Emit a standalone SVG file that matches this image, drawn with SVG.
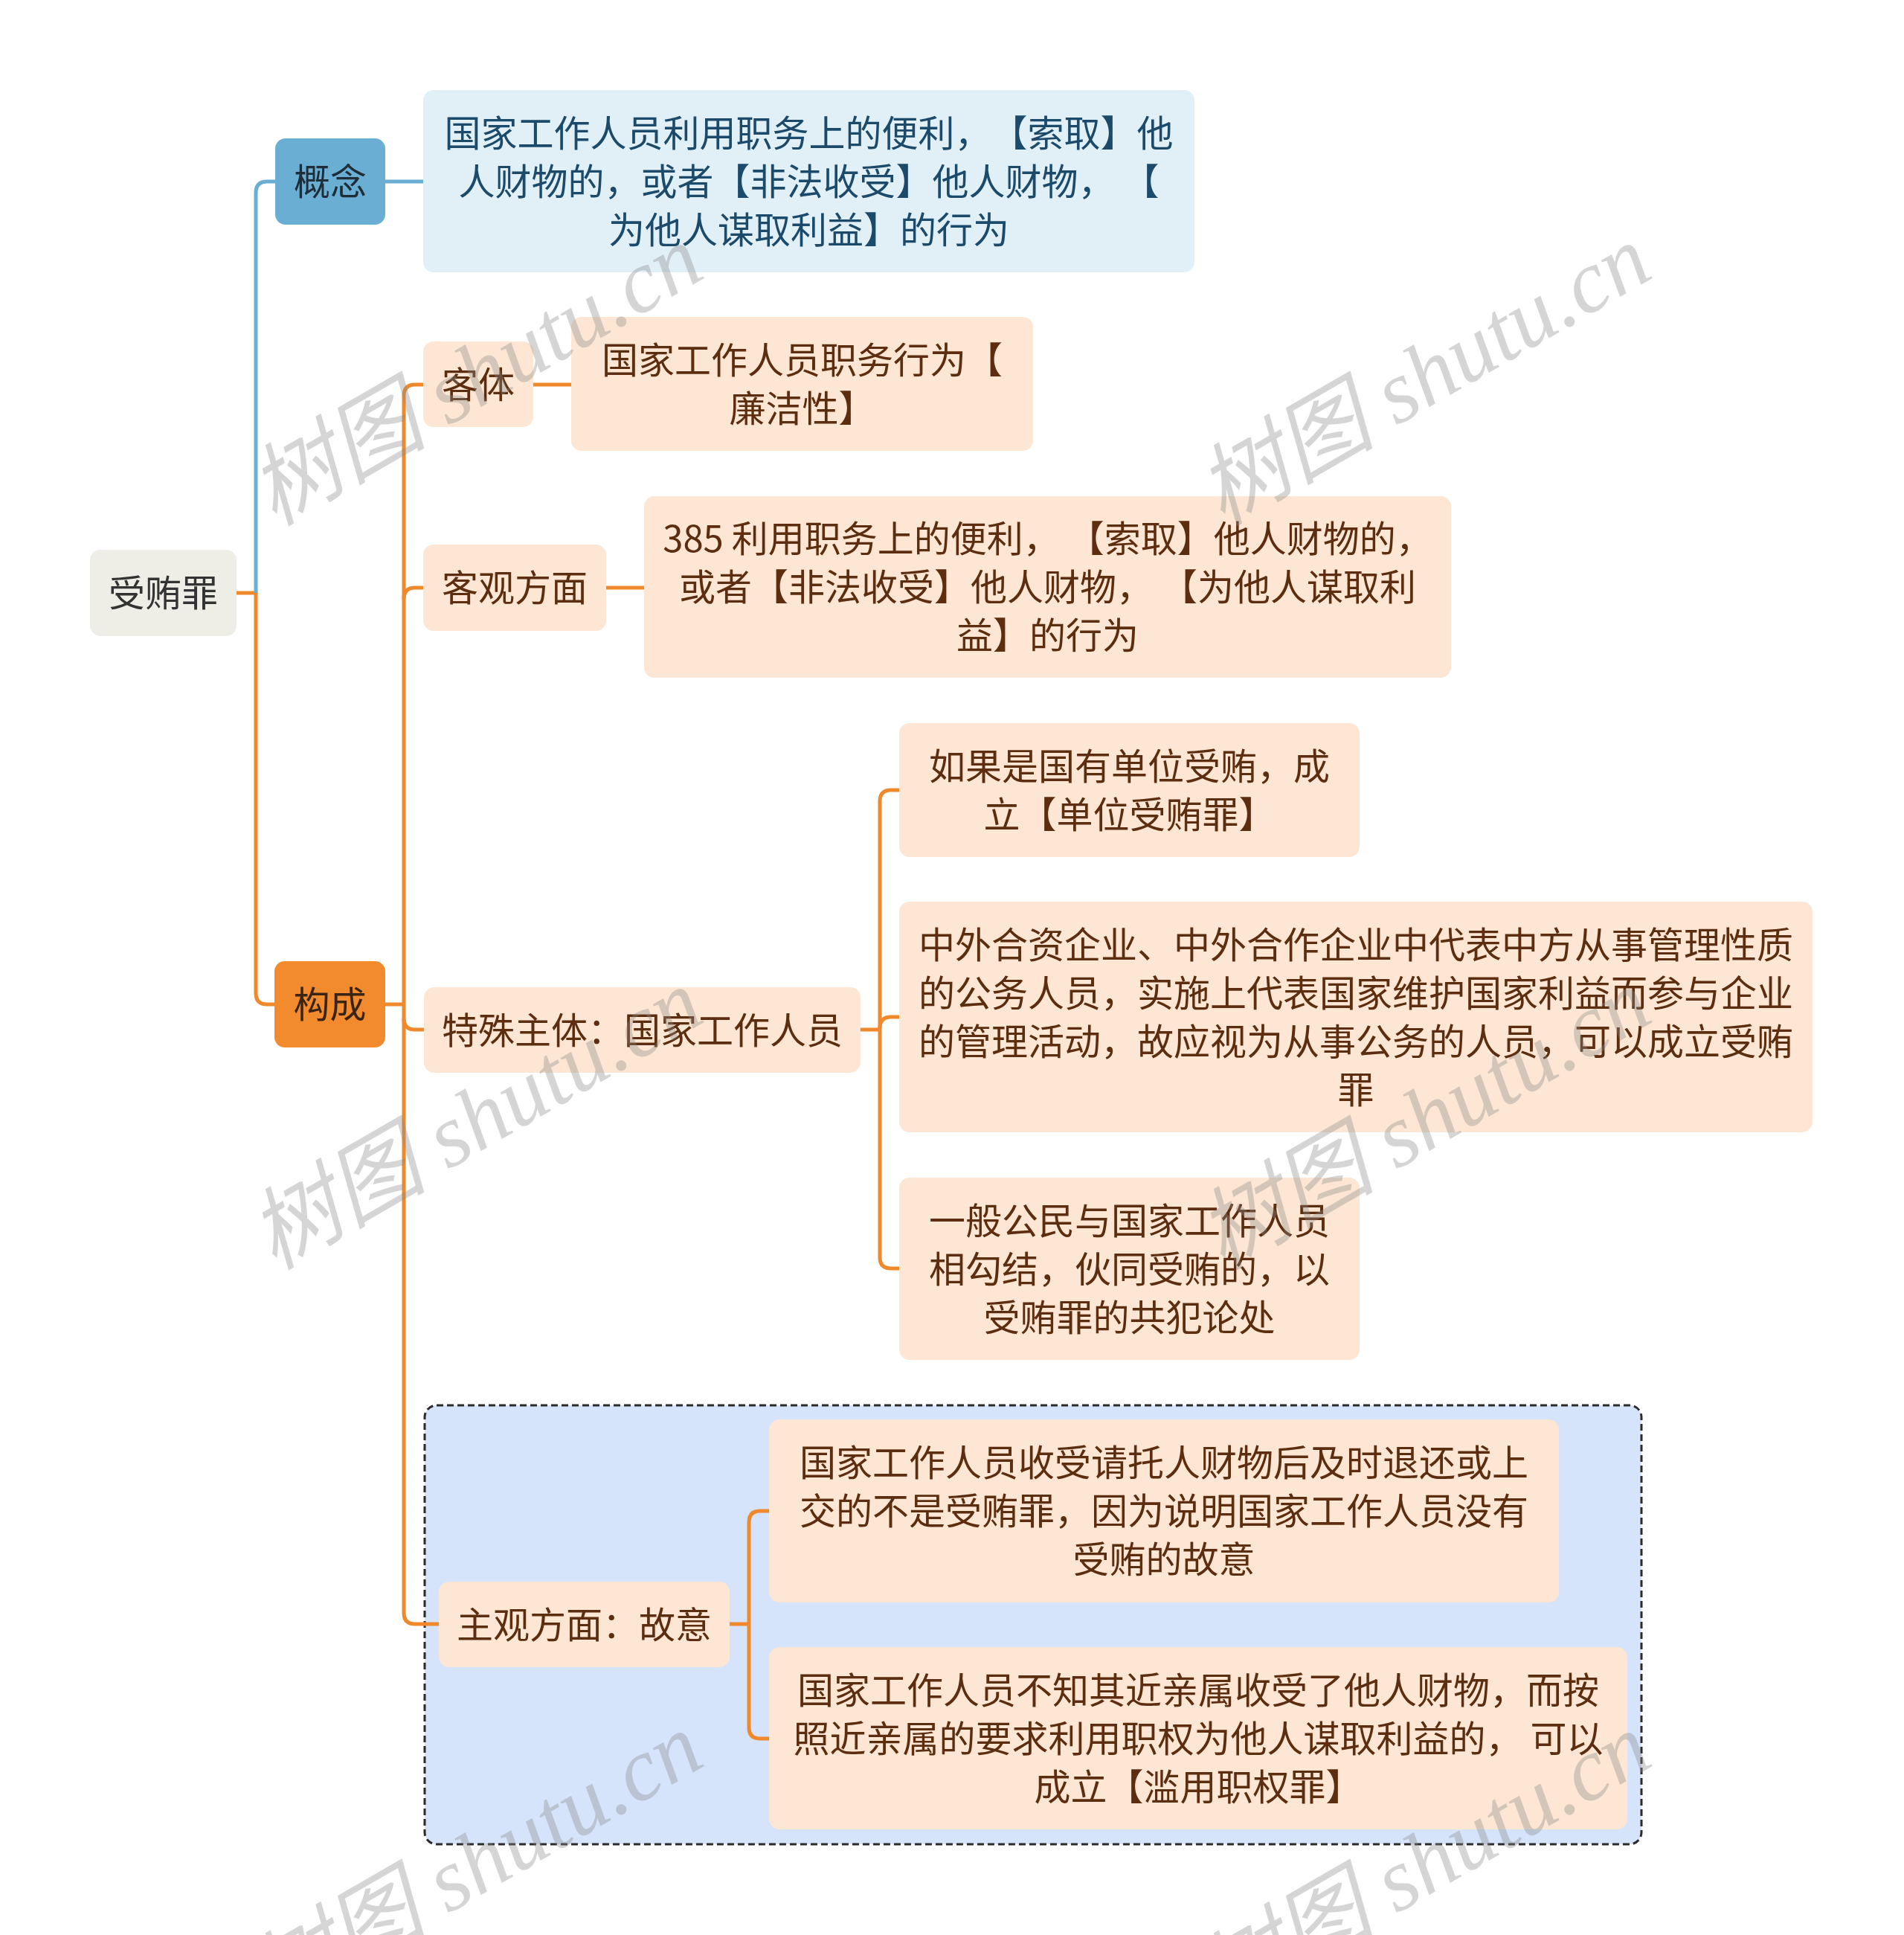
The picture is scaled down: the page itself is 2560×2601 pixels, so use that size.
<svg xmlns="http://www.w3.org/2000/svg" width="2560" height="2601" viewBox="0 0 2560 2601">
<style>
text{font-family:"Noto Sans CJK SC","Noto Sans",sans-serif;font-size:49px;text-anchor:middle;text-spacing-trim:space-all}
.peach{fill:#fde6d4}
.pt{fill:#5c2d0e}
.or{fill:none;stroke:#f0892c;stroke-width:5}
.bl{fill:none;stroke:#6aaed3;stroke-width:5}
.wm{font-family:"Liberation Serif","Noto Sans CJK SC",serif;font-size:120px;font-style:italic;fill:#8a8a8a;fill-opacity:0.36;text-anchor:middle}
</style>
<rect width="2560" height="2601" fill="#ffffff"/>
<g id="group-subjective">
<rect x="571" y="1889" width="1636" height="590" rx="16" fill="#d5e3fb" stroke="#2b2b2b" stroke-width="3" stroke-dasharray="9 5"/>
</g>
<g id="connectors">
<path class="or" d="M318,797 H344 V1335 Q344,1350 359,1350 H369"/>
<path class="bl" d="M344,797 V259 Q344,244 359,244 H370"/>
<path class="bl" d="M518,244 H569"/>
<path class="or" d="M518,1350 H543"/>
<path class="or" d="M569,517 H558 Q543,517 543,532 V2168 Q543,2183 558,2183 H590"/>
<path class="or" d="M543,805 Q543,790 558,790 H569"/>
<path class="or" d="M543,1369 Q543,1384 558,1384 H570"/>
<path class="or" d="M717,517 H768"/>
<path class="or" d="M815,790 H866"/>
<path class="or" d="M1157,1384 H1183"/>
<path class="or" d="M1209,1062 H1198 Q1183,1062 1183,1077 V1690 Q1183,1705 1198,1705 H1209"/>
<path class="or" d="M1183,1382 Q1183,1367 1198,1367 H1209"/>
<path class="or" d="M981,2183 H1007"/>
<path class="or" d="M1034,2031 H1022 Q1007,2031 1007,2046 V2322 Q1007,2337 1022,2337 H1034"/>
</g>
<g id="root">
<rect x="121" y="739" width="197" height="116" rx="14" fill="#eeeee6"/>
<text x="219.5" y="815" fill="#333333">受贿罪</text>
</g>
<g id="concept">
<rect x="370" y="186" width="148" height="116" rx="14" fill="#6aaed3"/>
<text x="444" y="262" fill="#1e2d38">概念</text>
</g>
<g id="concept-def">
<rect x="569" y="121" width="1037" height="245" rx="14" fill="#e1eff7"/>
<text fill="#1b4a6b" xml:space="preserve"><tspan x="1087.5" y="196.5">国家工作人员利用职务上的便利，【索取】他</tspan><tspan x="1087.5" y="261.5">人财物的，或者【非法收受】他人财物， 【</tspan><tspan x="1087.5" y="326.5">为他人谋取利益】的行为</tspan></text>
</g>
<g id="composition">
<rect x="369" y="1292" width="149" height="116" rx="14" fill="#f28a2e"/>
<text x="443.5" y="1368" fill="#3a2514">构成</text>
</g>
<g id="object">
<rect class="peach" x="569" y="459" width="148" height="115" rx="14"/>
<text class="pt" x="643" y="534.5">客体</text>
</g>
<g id="object-def">
<rect class="peach" x="768" y="426" width="621" height="180" rx="14"/>
<text class="pt"><tspan x="1078.5" y="501.5">国家工作人员职务行为【</tspan><tspan x="1078.5" y="566.5">廉洁性】</tspan></text>
</g>
<g id="objective">
<rect class="peach" x="569" y="732" width="246" height="116" rx="14"/>
<text class="pt" x="692" y="808">客观方面</text>
</g>
<g id="objective-def">
<rect class="peach" x="866" y="667" width="1085" height="244" rx="14"/>
<text class="pt" xml:space="preserve"><tspan x="1408.5" y="742">385 利用职务上的便利， 【索取】他人财物的，</tspan><tspan x="1408.5" y="807">或者【非法收受】他人财物， 【为他人谋取利</tspan><tspan x="1408.5" y="872">益】的行为</tspan></text>
</g>
<g id="subject">
<rect class="peach" x="570" y="1327" width="587" height="115" rx="14"/>
<text class="pt" x="863.5" y="1402.5">特殊主体：国家工作人员</text>
</g>
<g id="subject-1">
<rect class="peach" x="1209" y="972" width="619" height="180" rx="14"/>
<text class="pt"><tspan x="1518.5" y="1047.5">如果是国有单位受贿，成</tspan><tspan x="1518.5" y="1112.5">立【单位受贿罪】</tspan></text>
</g>
<g id="subject-2">
<rect class="peach" x="1209" y="1212" width="1228" height="310" rx="14"/>
<text class="pt"><tspan x="1823" y="1287.5">中外合资企业、中外合作企业中代表中方从事管理性质</tspan><tspan x="1823" y="1352.5">的公务人员，实施上代表国家维护国家利益而参与企业</tspan><tspan x="1823" y="1417.5">的管理活动，故应视为从事公务的人员，可以成立受贿</tspan><tspan x="1823" y="1482.5">罪</tspan></text>
</g>
<g id="subject-3">
<rect class="peach" x="1209" y="1583" width="619" height="245" rx="14"/>
<text class="pt"><tspan x="1518.5" y="1658.5">一般公民与国家工作人员</tspan><tspan x="1518.5" y="1723.5">相勾结，伙同受贿的，以</tspan><tspan x="1518.5" y="1788.5">受贿罪的共犯论处</tspan></text>
</g>
<g id="subjective">
<rect class="peach" x="590" y="2126" width="391" height="115" rx="14"/>
<text class="pt" x="785.5" y="2201.5">主观方面：故意</text>
</g>
<g id="subjective-1">
<rect class="peach" x="1034" y="1908" width="1062" height="246" rx="14"/>
<text class="pt"><tspan x="1565" y="1984">国家工作人员收受请托人财物后及时退还或上</tspan><tspan x="1565" y="2049">交的不是受贿罪，因为说明国家工作人员没有</tspan><tspan x="1565" y="2114">受贿的故意</tspan></text>
</g>
<g id="subjective-2">
<rect class="peach" x="1034" y="2214" width="1154" height="245" rx="14"/>
<text class="pt" xml:space="preserve"><tspan x="1611" y="2289.5">国家工作人员不知其近亲属收受了他人财物，而按</tspan><tspan x="1611" y="2354.5">照近亲属的要求利用职权为他人谋取利益的， 可以</tspan><tspan x="1611" y="2419.5">成立【滥用职权罪】</tspan></text>
</g>
<g id="watermarks">
<text class="wm" transform="translate(640,505) rotate(-30)" y="40">树图 shutu.cn</text>
<text class="wm" transform="translate(1915,505) rotate(-30)" y="40">树图 shutu.cn</text>
<text class="wm" transform="translate(640,1505) rotate(-30)" y="40">树图 shutu.cn</text>
<text class="wm" transform="translate(1915,1505) rotate(-30)" y="40">树图 shutu.cn</text>
<text class="wm" transform="translate(640,2505) rotate(-30)" y="40">树图 shutu.cn</text>
<text class="wm" transform="translate(1915,2505) rotate(-30)" y="40">树图 shutu.cn</text>
</g>
</svg>
